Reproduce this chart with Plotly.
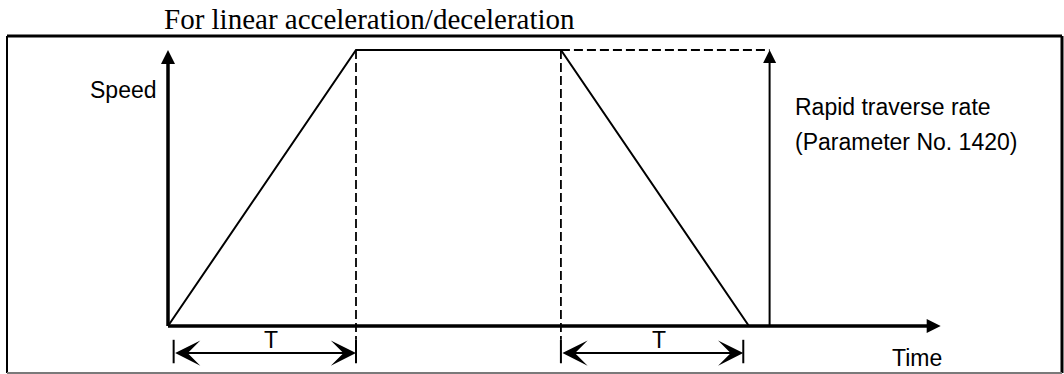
import plotly.graph_objects as go

# speed profile: time in units of the acceleration time T, speed as a fraction of the rapid rate
profile_time = [0, 1.0, 2.09, 3.09]
profile_speed = [0, 1.0, 1.0, 0]
rapid_rate = 1.0
rapid_arrow_time = 3.2
time_axis_end = 4.11
dim_starts = [0.03, 2.09]
dim_ends = [1.0, 3.06]
dim_labels = ["T", "T"]
speed_label = "Speed"
time_label = "Time"
rate_lines = ["Rapid traverse rate", "(Parameter No. 1420)"]
title_text = "For linear acceleration/deceleration"

W, H = 1064, 374
ORIGIN_X, ORIGIN_Y = 168, 326   # px position of the time/speed origin
PX_T, PX_S = 188, 276           # px per unit time / unit speed

SANS = "Liberation Sans, Arial, sans-serif"
SERIF = "Liberation Serif, Times New Roman, serif"
LABEL_FONT = dict(family=SANS, size=23, color="black")
DASH = dict(color="black", width=1.8, dash="9px,4px")

DIM_Y = -0.098                  # dimension arrow level
TICK_TOP, TICK_BOT = -0.05, -0.135

fig = go.Figure()

# trapezoid
fig.add_trace(go.Scatter(x=profile_time, y=profile_speed, mode="lines",
                         line=dict(color="black", width=2)))

# dashed guides
for t in profile_time[1:3]:
    fig.add_trace(go.Scatter(x=[t, t], y=[rapid_rate, TICK_TOP], mode="lines", line=DASH))
fig.add_trace(go.Scatter(x=[profile_time[2], rapid_arrow_time], y=[rapid_rate, rapid_rate],
                         mode="lines", line=DASH))

# axes
fig.add_trace(go.Scatter(x=[0, 0, None, 0, time_axis_end - 0.04],
                         y=[0, rapid_rate - 0.03, None, 0, 0], mode="lines",
                         line=dict(color="black", width=3.5)))
fig.add_trace(go.Scatter(x=[0], y=[rapid_rate], mode="markers",
                         marker=dict(symbol="arrow-up", size=14, color="black", line_width=0)))
fig.add_trace(go.Scatter(x=[time_axis_end], y=[0], mode="markers",
                         marker=dict(symbol="arrow-right", size=14, color="black", line_width=0)))

# rapid traverse rate arrow
fig.add_trace(go.Scatter(x=[rapid_arrow_time, rapid_arrow_time], y=[0, rapid_rate - 0.03],
                         mode="lines", line=dict(color="black", width=2)))
fig.add_trace(go.Scatter(x=[rapid_arrow_time], y=[rapid_rate], mode="markers",
                         marker=dict(symbol="arrow-up", size=13, color="black", line_width=0)))

# T dimension ticks
tick_x, tick_y = [], []
for t in dim_starts + dim_ends:
    tick_x += [t, t, None]
    tick_y += [TICK_TOP, TICK_BOT, None]
fig.add_trace(go.Scatter(x=tick_x, y=tick_y, mode="lines",
                         line=dict(color="black", width=2)))

annotations = []
for a, b, lab in zip(dim_starts, dim_ends, dim_labels):
    annotations.append(dict(x=b, y=DIM_Y, ax=a, ay=DIM_Y, xref="x", yref="y",
                            axref="x", ayref="y", text="", showarrow=True,
                            arrowside="end+start", arrowhead=3, startarrowhead=3,
                            arrowwidth=2, arrowsize=2.1, startarrowsize=2.1,
                            arrowcolor="black"))
    annotations.append(dict(x=(a + b) / 2 + 0.035, y=-0.05, xref="x", yref="y",
                            text=lab, showarrow=False, font=LABEL_FONT))

annotations.append(dict(x=-0.05, y=0.855, xref="x", yref="y", text=speed_label,
                        showarrow=False, xanchor="right", font=LABEL_FONT))
annotations.append(dict(x=3.985, y=-0.116, xref="x", yref="y", text=time_label,
                        showarrow=False, font=LABEL_FONT))
for yy, line in zip([0.793, 0.667], rate_lines):
    annotations.append(dict(x=3.324, y=yy, xref="x", yref="y", text=line,
                            showarrow=False, xanchor="left", font=LABEL_FONT))
annotations.append(dict(x=162 / W, y=1 - 19 / H, xref="paper", yref="paper",
                        text=title_text, showarrow=False, xanchor="left", yanchor="middle",
                        font=dict(family=SERIF, size=29, color="black")))

# frame around the figure
L, R = 7 / W, 1062 / W
T_, B = 1 - 36 / H, 1 - 373 / H
shapes = [
    dict(type="line", xref="paper", yref="paper", x0=L, x1=R, y0=T_, y1=T_,
         line=dict(color="black", width=3)),
    dict(type="line", xref="paper", yref="paper", x0=L, x1=L, y0=B, y1=T_,
         line=dict(color="black", width=2)),
    dict(type="line", xref="paper", yref="paper", x0=R, x1=R, y0=B, y1=T_,
         line=dict(color="black", width=3)),
    dict(type="line", xref="paper", yref="paper", x0=L, x1=R, y0=B, y1=B,
         line=dict(color="#7a7a7a", width=2)),
]

fig.update_layout(
    width=W, height=H, margin=dict(l=0, r=0, t=0, b=0),
    paper_bgcolor="white", plot_bgcolor="white", showlegend=False,
    xaxis=dict(range=[-ORIGIN_X / PX_T, (W - ORIGIN_X) / PX_T], visible=False, fixedrange=True),
    yaxis=dict(range=[(ORIGIN_Y - H) / PX_S, ORIGIN_Y / PX_S], visible=False, fixedrange=True),
    annotations=annotations, shapes=shapes,
)

# drop the browser's default body margin so the figure sits at the page corner
fig.write_html("out.html", config={"displayModeBar": False},
               post_script="document.body.style.margin='0px';")
